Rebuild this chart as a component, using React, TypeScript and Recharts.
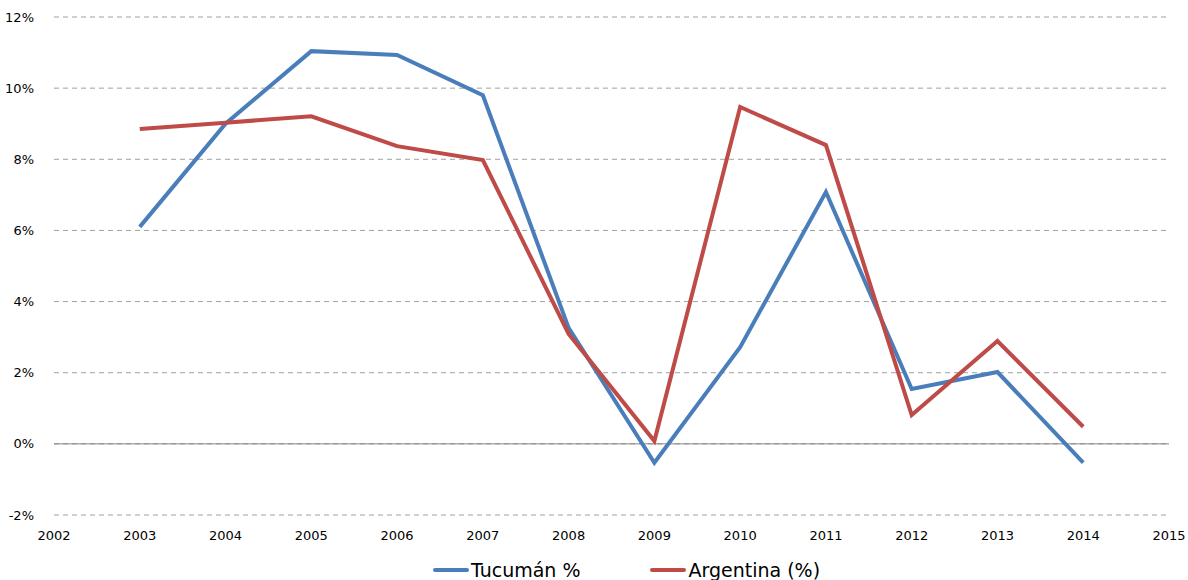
import React from "react";
import { LineChart, Line, XAxis, YAxis, CartesianGrid, ReferenceLine, Legend } from "recharts";

const years = [2003, 2004, 2005, 2006, 2007, 2008, 2009, 2010, 2011, 2012, 2013, 2014];
const tucuman = [6.1, 9.0, 11.04, 10.93, 9.8, 3.26, -0.53, 2.72, 7.08, 1.54, 2.02, -0.53];
const argentina = [8.85, 9.03, 9.21, 8.37, 7.98, 3.09, 0.08, 9.47, 8.4, 0.81, 2.89, 0.48];
const xTicks = [2002, 2003, 2004, 2005, 2006, 2007, 2008, 2009, 2010, 2011, 2012, 2013, 2014, 2015];
const yTicks = [-2, 0, 2, 4, 6, 8, 10, 12];

const data = years.map((y, i) => ({ year: y, tuc: tucuman[i], arg: argentina[i] }));

const BLUE = "#4A7EBB";
const RED = "#BE4B48";
const FONT = "'DejaVu Sans', Verdana, sans-serif";

const legendItems = [
  { label: "Tucumán %", color: BLUE },
  { label: "Argentina (%)", color: RED },
];

const LegendContent = () => (
  <div style={{ display: "flex", justifyContent: "center", fontFamily: FONT, fontSize: 19, color: "#000", marginLeft: 84, marginTop: 8 }}>
    {legendItems.map((it, i) => (
      <div key={i} style={{ display: "flex", alignItems: "center", marginRight: i === 0 ? 70 : 0 }}>
        <div style={{ width: 36, height: 4, background: it.color, borderRadius: 2, marginRight: 2 }} />
        <span>{it.label}</span>
      </div>
    ))}
  </div>
);

export default function App() {
  return (
    <div style={{ position: "absolute", left: 0, top: 0, width: 1188, height: 580, background: "#fff", overflow: "hidden" }}>
      <LineChart width={1188} height={580} data={data} margin={{ top: 17, right: 19, left: 0, bottom: 0 }}>
        <CartesianGrid horizontal vertical={false} stroke="#A0A0A0" strokeDasharray="5 4" />
        <XAxis
          dataKey="year"
          type="number"
          domain={[2002, 2015]}
          ticks={xTicks}
          interval={0}
          axisLine={false}
          tickLine={false}
          tick={{ fill: "#000", fontSize: 13, fontFamily: FONT }}
          tickMargin={10}
          height={36}
        />
        <YAxis
          domain={[-2, 12]}
          ticks={yTicks}
          interval={0}
          width={54}
          axisLine={false}
          tickLine={false}
          tickFormatter={(v: number) => `${v}%`}
          tick={{ fill: "#000", fontSize: 13, fontFamily: FONT }}
          tickMargin={14}
        />
        <ReferenceLine y={0} stroke="#868686" strokeWidth={1} />
        <Line type="linear" dataKey="tuc" stroke={BLUE} strokeWidth={4} dot={false} isAnimationActive={false} />
        <Line type="linear" dataKey="arg" stroke={RED} strokeWidth={4} dot={false} isAnimationActive={false} />
        <Legend verticalAlign="bottom" height={29} content={<LegendContent />} />
      </LineChart>
    </div>
  );
}
